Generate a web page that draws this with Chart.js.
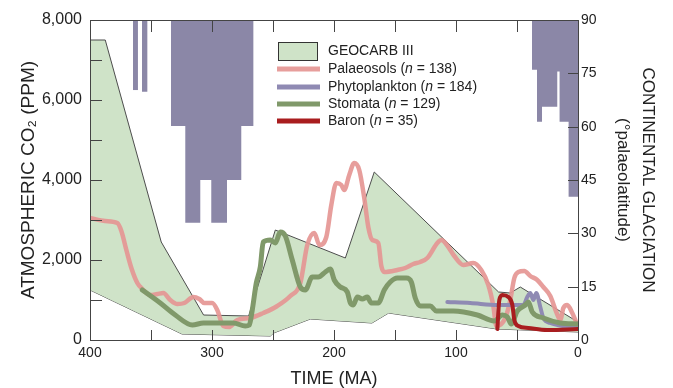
<!DOCTYPE html>
<html>
<head>
<meta charset="utf-8">
<script src="https://cdn.jsdelivr.net/npm/chart.js@4.4.1/dist/chart.umd.min.js"></script>
<style>
  html, body { margin: 0; padding: 0; background: #fff; }
  #wrap { width: 673px; height: 388px; }
</style>
</head>
<body>
<div id="wrap"><canvas id="co2Chart" width="673" height="388"></canvas></div>
<script>
// [time in Ma, CO2 in ppm]
const geocarbUpper = [[400,7500],[387.5,7500],[341.6,2450],[306.9,625],[270,600],[248.1,2750],[190.7,2050],[167,4200],[65.1,1200],[55.5,1175],[47.3,1325],[36.6,1125],[0,450]];
const geocarbLower = [[400,1250],[324.6,150],[252.2,100],[249.5,175],[219.4,525],[168.9,425],[155.2,675],[66.4,275],[0,200]];

const palaeosols = [[400,3050],[387.5,2975],[377.6,2925],[374.3,2725],[370.2,2250],[366.1,1800],[361.2,1425],[357.1,1275],[350.6,1125],[344.8,1150],[339.9,1175],[334.2,1000],[328.4,900],[322.7,925],[315.3,1075],[310.4,1025],[306.3,925],[299.8,925],[295.7,750],[290.7,350],[285.8,325],[279.3,500],[268.6,550],[257.9,675],[246.5,850],[235.8,1100],[227.6,1425],[221.9,2375],[216.1,2675],[212,2375],[206.3,2575],[202.2,3375],[198.1,3925],[194,3875],[191.6,3750],[187.5,4125],[183.4,4425],[179.3,4250],[175.2,3550],[171.9,2825],[168.6,2500],[163.7,2425],[161.2,1850],[158.8,1700],[148.1,1750],[141.6,1800],[135,1900],[129.3,1950],[123.5,2050],[115.3,2425],[112,2500],[106.3,2325],[101.4,2100],[94,1875],[85.8,1925],[79.3,1750],[73.5,1375],[69.4,850],[66.9,350],[59.6,550],[55.5,1000],[52.2,1550],[48.9,1700],[44,1725],[39.1,1600],[33.4,1500],[28.4,1325],[22.7,1100],[17.8,700],[14.5,500],[12,800],[8.8,875],[4.7,675],[2.2,500],[0.6,375]];

const phytoplankton = [[107.1,950],[88.3,925],[66.1,875],[44.8,875],[41.6,1075],[39.1,1175],[36.6,1000],[34.2,1175],[30.9,825],[28.4,550],[22.7,425],[12,350],[0.6,325]];

const stomata = [[357.1,1250],[342.4,925],[330.1,625],[316.1,375],[307.1,425],[295.7,425],[282.5,425],[272.7,350],[269.4,375],[267,750],[263.7,1425],[260.4,1825],[258,2450],[252.2,2500],[248.1,2425],[244,2700],[239.9,2600],[234.2,2000],[227.6,1325],[223.5,1250],[217.8,1575],[212.9,1575],[207.1,1700],[203,1775],[199.8,1500],[194.8,1325],[189.1,1200],[186.6,925],[184.2,875],[180.9,1075],[176.8,1025],[172.7,1075],[169.4,925],[163.7,925],[158.8,1250],[153.9,1450],[148.1,1550],[140.7,1550],[136.6,1450],[133.4,1050],[129.3,850],[121.1,850],[116.1,725],[102.2,725],[82.5,625],[68.6,475],[62,625],[57.9,575],[54.7,400],[49.8,725],[43.2,875],[40.7,950],[37.5,700],[28.4,550],[14.5,425],[0,400]];

const baron = [[66.1,275],[64.5,1000],[62,1125],[57.1,1075],[53.8,875],[52.2,500],[48.9,350],[40.7,300],[25.2,250],[0,275]];

// [time in Ma, lower limit of ice in degrees palaeolatitude]
const glaciationA = [[364.8,70.3],[360.7,70.3]];
const glaciationB = [[357.4,69.8],[352.8,69.8]];
const glaciationC = [[333.6,60.2],[321.9,60.2],[321.9,33],[309.6,33],[309.6,45],[300.6,45],[300.6,33],[287.7,33],[287.7,45],[276,45],[276,60.2],[265.9,60.2]];
const glaciationD = [[37.7,76],[33.6,76],[33.6,61.4],[29.5,61.4],[29.5,65.6],[17,65.6],[17,75.5],[15.1,75.5],[15.1,61.4],[7.7,61.4],[7.7,40.3],[0,40.3]];

const seriesNames = ['Palaeosols', 'Phytoplankton', 'Stomata', 'Baron'];
const seriesCounts = [138, 184, 129, 35];

const FONT = "'Liberation Sans', Arial, Helvetica, sans-serif";
const GEO_FILL = '#cfe3c8';
const GLACIAL = '#8b87a7';
const lineColors = ['rgba(229,150,148,0.92)', '#8f8ab3', '#80996a', '#a91d1f'];

const toXY = arr => arr.map(p => ({ x: p[0], y: p[1] }));

function curve(data, color, width, order) {
    return {
        data: toXY(data),
        borderColor: color,
        borderWidth: width,
        pointRadius: 0,
        fill: false,
        cubicInterpolationMode: 'monotone',
        borderCapStyle: 'round',
        borderJoinStyle: 'round',
        order: order
    };
}

function iceBlock(data) {
    return {
        data: toXY(data),
        yAxisID: 'y2',
        borderWidth: 0,
        borderColor: GLACIAL,
        backgroundColor: GLACIAL,
        pointRadius: 0,
        fill: 'end',
        tension: 0,
        order: 8
    };
}

// inward ticks and the box round the plot
const frameTicks = {
    id: 'frameTicks',
    afterDatasetsDraw(chart) {
        const { ctx, chartArea: a, scales: { x, y, y2 } } = chart;
        ctx.save();
        ctx.strokeStyle = '#444';
        ctx.lineWidth = 1;
        ctx.beginPath();
        for (let v = 0; v <= 400; v += 50) {
            const px = Math.round(x.getPixelForValue(v)) + 0.5;
            ctx.moveTo(px, a.bottom); ctx.lineTo(px, a.bottom - 10);
            ctx.moveTo(px, a.top); ctx.lineTo(px, a.top + 12);
        }
        for (let v = 0; v <= 8000; v += 1000) {
            const py = Math.round(y.getPixelForValue(v)) + 0.5;
            ctx.moveTo(a.left, py); ctx.lineTo(a.left + 12, py);
        }
        for (let v = 0; v <= 90; v += 15) {
            const py = Math.round(y2.getPixelForValue(v)) + 0.5;
            ctx.moveTo(a.right, py); ctx.lineTo(a.right - 10, py);
        }
        ctx.stroke();
        ctx.strokeRect(Math.round(a.left) + 0.5, Math.round(a.top) + 0.5,
            Math.round(a.right - a.left), Math.round(a.bottom - a.top));
        ctx.restore();
    }
};

// legend drawn by hand so that "n" can be italic
const legendBox = {
    id: 'legendBox',
    afterDraw(chart) {
        const ctx = chart.ctx;
        const x0 = 277, x1 = 320, tx = 328;
        const rows = [69, 87, 104, 121];
        ctx.save();
        ctx.fillStyle = GEO_FILL;
        ctx.fillRect(278, 42, 39, 18);
        ctx.strokeStyle = '#333';
        ctx.lineWidth = 1;
        ctx.strokeRect(278.5, 42.5, 39, 18);
        ctx.textBaseline = 'middle';
        ctx.fillStyle = '#222';
        ctx.font = '14px ' + FONT;
        ctx.fillText('GEOCARB III', tx, 51);
        seriesNames.forEach((name, i) => {
            const ry = rows[i];
            ctx.strokeStyle = lineColors[i];
            ctx.lineWidth = 5;
            ctx.lineCap = 'butt';
            ctx.beginPath();
            ctx.moveTo(x0, ry); ctx.lineTo(x1, ry);
            ctx.stroke();
            let cx = tx;
            ctx.fillStyle = '#222';
            ctx.font = '14px ' + FONT;
            const a = name + ' (';
            ctx.fillText(a, cx, ry); cx += ctx.measureText(a).width;
            ctx.font = 'italic 14px ' + FONT;
            ctx.fillText('n', cx, ry); cx += ctx.measureText('n').width;
            ctx.font = '14px ' + FONT;
            ctx.fillText(' = ' + seriesCounts[i] + ')', cx, ry);
        });
        ctx.restore();
    }
};

const ctx = document.getElementById('co2Chart').getContext('2d');
const chart = new Chart(ctx, {
    type: 'line',
    data: {
        datasets: [
            curve(baron, lineColors[3], 4, 0),
            curve(stomata, lineColors[2], 5, 1),
            curve(phytoplankton, lineColors[1], 4, 2),
            curve(palaeosols, lineColors[0], 4.5, 3),
            iceBlock(glaciationA),
            iceBlock(glaciationB),
            iceBlock(glaciationC),
            iceBlock(glaciationD),
            {
                label: 'GEOCARB III',
                data: toXY(geocarbUpper),
                borderColor: '#4d4d4d',
                borderWidth: 1,
                backgroundColor: GEO_FILL,
                pointRadius: 0,
                tension: 0,
                fill: '+1',
                order: 9
            },
            {
                data: toXY(geocarbLower),
                borderColor: '#4d4d4d',
                borderWidth: 1,
                pointRadius: 0,
                tension: 0,
                fill: false,
                order: 10
            }
        ]
    },
    options: {
        responsive: false,
        animation: false,
        layout: { padding: { top: 20 } },
        plugins: {
            legend: { display: false },
            tooltip: { enabled: false }
        },
        scales: {
            x: {
                type: 'linear',
                reverse: true,
                min: 0,
                max: 400,
                grid: { display: false, drawTicks: false },
                border: { display: false },
                ticks: { stepSize: 100, padding: 5, maxRotation: 0, color: '#222', font: { family: FONT, size: 14 } },
                title: { display: true, text: 'TIME (MA)', color: '#222', padding: 0, font: { family: FONT, size: 18, lineHeight: 1 } },
                afterFit: s => { s.height = 48; }
            },
            y: {
                position: 'left',
                min: 0,
                max: 8000,
                grid: { display: false, drawTicks: false },
                border: { display: false },
                ticks: { stepSize: 2000, padding: 8, color: '#222', font: { family: FONT, size: 16 } },
                title: { display: true, text: 'ATMOSPHERIC CO₂ (PPM)', color: '#222', padding: { top: 17, bottom: 0 }, font: { family: FONT, size: 19 } },
                afterFit: s => { s.width = 90; }
            },
            y2: {
                position: 'right',
                min: 0,
                max: 90,
                grid: { display: false, drawTicks: false },
                border: { display: false },
                ticks: { stepSize: 15, padding: 3, color: '#222', font: { family: FONT, size: 14 } },
                title: {
                    display: true,
                    text: ['CONTINENTAL GLACIATION', '(°palaeolatitude)'],
                    color: '#222',
                    padding: { top: 13, bottom: 0 },
                    font: { family: FONT, size: 17, lineHeight: 1.45 }
                },
                afterFit: s => { s.width = 95; }
            }
        }
    },
    plugins: [frameTicks, legendBox]
});
</script>
</body>
</html>
